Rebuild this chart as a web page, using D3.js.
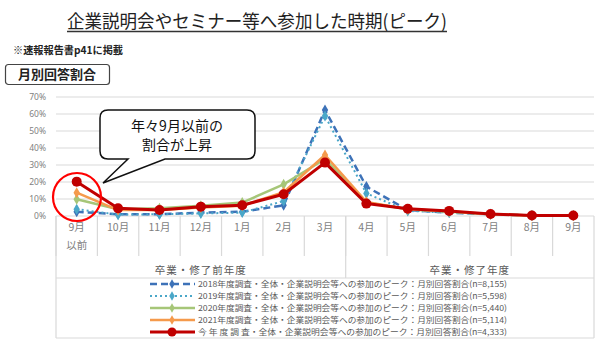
<!DOCTYPE html>
<html><head><meta charset="utf-8">
<script src="https://cdn.jsdelivr.net/npm/d3@7"></script>
<style>
html,body{margin:0;padding:0;background:#fff;}
svg{display:block;font-family:"Noto Sans CJK JP","Noto Sans",sans-serif;}
</style></head>
<body><svg id="c" width="602" height="357"></svg>
<script>
const categories = ["9月以前","10月","11月","12月","1月","2月","3月","4月","5月","6月","7月","8月","9月"];
const categoryLines = [["9月","以前"],["10月"],["11月"],["12月"],["1月"],["2月"],["3月"],["4月"],["5月"],["6月"],["7月"],["8月"],["9月"]];
const groups = ["卒業・修了前年度","卒業・修了年度"];
const groupSizes = [7, 6];
const yTicks = [0,10,20,30,40,50,60,70];
const s2018 = [2.5, 1.0, 1.0, 2.0, 2.5, 6.3, 62.4, 17.3, 3.5, 2.0, 1.0, 0.3, 0.3];
const s2019 = [4.0, 0.8, 1.0, 1.5, 2.0, 8.8, 58.8, 13.3, 3.0, 2.0, 1.0, 0.3, 0.2];
const s2020 = [9.8, 4.0, 4.5, 6.0, 7.9, 18.6, 33.5, 8.0, 4.0, 2.5, 1.0, 0.3, 0.3];
const s2021 = [13.7, 3.5, 3.5, 5.0, 6.0, 14.0, 35.9, 8.3, 4.0, 2.8, 1.0, 0.3, 0.3];
const sNow  = [20.2, 4.5, 3.5, 5.5, 6.3, 12.8, 31.4, 7.3, 4.3, 3.0, 1.2, 0.3, 0.3];
const seriesNames = [
  "2018年度調査・全体・企業説明会等への参加のピーク：月別回答割合(n=8,155)",
  "2019年度調査・全体・企業説明会等への参加のピーク：月別回答割合(n=5,598)",
  "2020年度調査・全体・企業説明会等への参加のピーク：月別回答割合(n=5,440)",
  "2021年度調査・全体・企業説明会等への参加のピーク：月別回答割合(n=5,114)",
  "今 年 度 調 査・全体・企業説明会等への参加のピーク：月別回答割合(n=4,333)"
];
const title = "企業説明会やセミナー等へ参加した時期(ピーク)";
const note = "※速報報告書p41に掲載";
const boxLabel = "月別回答割合";
const callout = ["年々9月以前の","割合が上昇"];

const styles = [
  {color:"#3d72b8", width:2.5, dash:"7,4", marker:"diamond", ms:4},
  {color:"#4aa7c8", width:2, dash:"2,3", marker:"diamond", ms:4},
  {color:"#a6c678", width:2.5, dash:null, marker:"diamond", ms:4},
  {color:"#f59a4c", width:2.5, dash:null, marker:"diamond", ms:4},
  {color:"#c00000", width:3, dash:null, marker:"circle", ms:5}
];
const allSeries = [s2018, s2019, s2020, s2021, sNow];

const svg = d3.select("#c");
const L = 56, R = 594, T = 97, B = 216;
const x = d3.scaleBand().domain(categories).range([L, R]).padding(0);
const y = d3.scaleLinear().domain([0, 70]).range([B, T]);
const cx = c => x(c) + x.bandwidth()/2;

// Title
svg.append("text").attr("x", 67).attr("y", 28)
  .attr("font-size", 18.5).attr("fill","#222").attr("textLength",380).attr("lengthAdjust","spacingAndGlyphs").text(title);
svg.append("line").attr("x1", 67).attr("x2", 447).attr("y1", 31.5).attr("y2", 31.5)
  .attr("stroke","#333").attr("stroke-width",1.3);
svg.append("text").attr("x", 13).attr("y", 54).attr("font-size", 10.5).attr("font-weight","bold")
  .attr("fill","#222").attr("textLength",110).attr("lengthAdjust","spacingAndGlyphs").text(note);
svg.append("rect").attr("x",5.5).attr("y",64.5).attr("width",104).attr("height",20).attr("rx",3)
  .attr("fill","#fff").attr("stroke","#444").attr("stroke-width",1.2);
svg.append("text").attr("x",57).attr("y",79).attr("text-anchor","middle").attr("font-size",13)
  .attr("font-weight","bold").attr("fill","#222").text(boxLabel);

// gridlines
svg.append("g").selectAll("line").data(yTicks).join("line")
  .attr("x1", L).attr("x2", R).attr("y1", d=>y(d)).attr("y2", d=>y(d))
  .attr("stroke","#d9d9d9").attr("stroke-width",1.2);
// y axis labels
const yAxis = d3.axisLeft(y).tickValues(yTicks).tickFormat(d=>d+"%").tickSize(0).tickPadding(0);
const ga = svg.append("g").attr("transform",`translate(${L-10},0)`).call(yAxis);
ga.select(".domain").remove();
ga.selectAll("text").attr("font-size",8.5).attr("fill","#7f7f7f").attr("font-family","'Noto Sans',sans-serif");

// category separators
const tableCol = "#d9d9d9";
categories.forEach((c,i)=>{
  svg.append("line").attr("x1", x(c)).attr("x2", x(c)).attr("y1", B).attr("y2", 256)
    .attr("stroke", tableCol).attr("stroke-width",1.2);
});
// group separators
let acc = 0;
const groupEdges = [L];
groupSizes.forEach(n=>{ acc += n; groupEdges.push(acc < categories.length ? x(categories[acc]) : R); });
groupEdges.forEach((gx,i)=>{
  svg.append("line").attr("x1", gx).attr("x2", gx).attr("y1", B).attr("y2", (i===0||i===groupEdges.length-1)?338:278)
    .attr("stroke", tableCol).attr("stroke-width",1.2);
});
svg.append("line").attr("x1", L).attr("x2", R).attr("y1", 278).attr("y2", 278).attr("stroke", tableCol).attr("stroke-width",1.2);
svg.append("line").attr("x1", L).attr("x2", R).attr("y1", 338).attr("y2", 338).attr("stroke", tableCol).attr("stroke-width",1.2);

// month labels
categories.forEach((c,i)=>{
  categoryLines[i].forEach((t,j)=>{
    svg.append("text").attr("x", cx(c)).attr("y", 231 + j*18).attr("text-anchor","middle")
      .attr("font-size",10.5).attr("fill","#7f7f7f").text(t);
  });
});
groups.forEach((g,i)=>{
  svg.append("text").attr("x",(groupEdges[i]+groupEdges[i+1])/2).attr("y",274).attr("text-anchor","middle")
    .attr("font-size",10.5).attr("fill","#595959").attr("letter-spacing",1).text(g);
});

// series
const line = d3.line().x((d,i)=>cx(categories[i])).y(d=>y(d));
const diamond = d3.symbol().type(d3.symbolDiamond);
allSeries.forEach((s,k)=>{
  const st = styles[k];
  const g = svg.append("g");
  g.append("path").datum(s).attr("d", line).attr("fill","none").attr("stroke", st.color)
    .attr("stroke-width", st.width).attr("stroke-dasharray", st.dash).attr("stroke-linejoin","round");
  if (st.marker === "circle") {
    g.selectAll("circle").data(s).join("circle").attr("cx",(d,i)=>cx(categories[i])).attr("cy",d=>y(d))
      .attr("r", st.ms).attr("fill", st.color);
  } else {
    g.selectAll("path.m").data(s).join("path").attr("class","m")
      .attr("transform",(d,i)=>`translate(${cx(categories[i])},${y(d)})`)
      .attr("d", diamond.size(st.ms*st.ms*2.2)()).attr("fill", st.color);
  }
});

// legend
seriesNames.forEach((n,k)=>{
  const st = styles[k];
  const ly = 284 + k*12;
  svg.append("line").attr("x1",150).attr("x2",195).attr("y1",ly).attr("y2",ly).attr("stroke",st.color)
    .attr("stroke-width", st.width).attr("stroke-dasharray", st.dash);
  if (st.marker === "circle") svg.append("circle").attr("cx",172).attr("cy",ly).attr("r",4.5).attr("fill",st.color);
  else svg.append("path").attr("transform",`translate(172,${ly})`).attr("d", diamond.size(26)()).attr("fill",st.color);
  svg.append("text").attr("x",198).attr("y",ly+3.2).attr("font-size",8.2).attr("fill","#595959")
    .attr("textLength",309).attr("lengthAdjust","spacingAndGlyphs").text(n);
});

// callout
const bx0=100, bx1=255, by0=110, by1=159, r=8;
const tipX=103, tipY=183, t0=128, t1=165;
const p = `M${bx0+r},${by0} H${bx1-r} Q${bx1},${by0} ${bx1},${by0+r} V${by1-r} Q${bx1},${by1} ${bx1-r},${by1} H${t1} L${tipX},${tipY} L${t0},${by1} H${bx0+r} Q${bx0},${by1} ${bx0},${by1-r} V${by0+r} Q${bx0},${by0} ${bx0+r},${by0} Z`;
svg.append("path").attr("d",p).attr("fill","#fff").attr("stroke","#111").attr("stroke-width",1.5);
callout.forEach((t,i)=>{
  svg.append("text").attr("x",177).attr("y",131+i*19).attr("text-anchor","middle").attr("font-size",14)
    .attr("fill","#111").text(t);
});
// red circle
svg.append("circle").attr("cx",77).attr("cy",197).attr("r",24).attr("fill","none").attr("stroke","#ff0000").attr("stroke-width",2.2);
</script></body></html>
